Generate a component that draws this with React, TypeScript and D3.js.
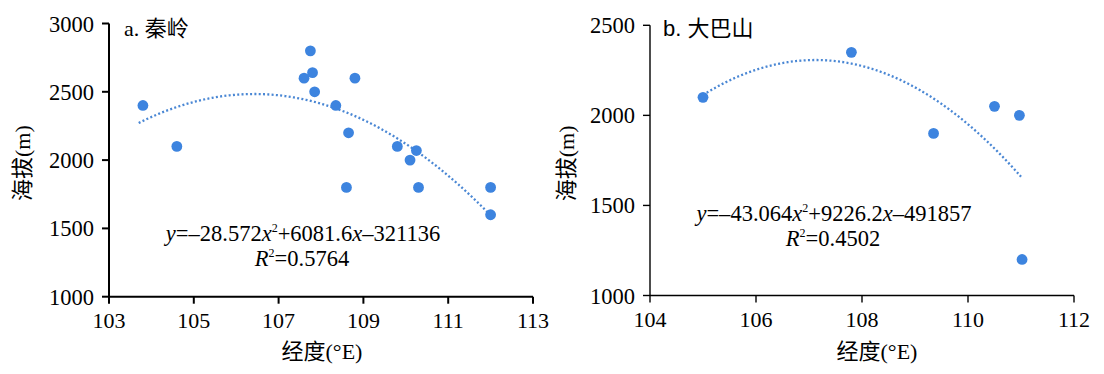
import React from "react";
import * as d3 from "d3";

// ---- data ----
const qinlingLon = [103.8, 104.6, 107.6, 107.75, 107.8, 107.85, 108.35, 108.8, 108.65, 108.6, 109.8, 110.25, 110.1, 110.3, 112.0, 112.0];
const qinlingAlt = [2400, 2100, 2600, 2800, 2640, 2500, 2400, 2600, 2200, 1800, 2100, 2070, 2000, 1800, 1800, 1600];
const qinlingFit = [-28.572, 6081.6, -321136];
const qinlingFitRange = [103.7, 112.0];
const qinlingXTicks = [103, 105, 107, 109, 111, 113];
const qinlingYTicks = [1000, 1500, 2000, 2500, 3000];

const dabaLon = [105.0, 107.8, 109.35, 110.5, 110.97, 111.02];
const dabaAlt = [2100, 2350, 1900, 2050, 2000, 1200];
const dabaFit = [-43.064, 9226.2, -491857];
const dabaFitRange = [105.0, 111.0];
const dabaXTicks = [104, 106, 108, 110, 112];
const dabaYTicks = [1000, 1500, 2000, 2500];

const xTitle = "经度(°E)";
const yTitle = "海拔(m)";

const FONT = "Liberation Serif, Times New Roman, Noto Sans CJK SC, serif";
const SANS = "Liberation Sans, Noto Sans CJK SC, sans-serif";
const DOT = "#3d84df";
const LINE = "#4a87d4";

type PanelProps = {
  lon: number[]; alt: number[]; fit: number[]; fitRange: number[];
  xTicks: number[]; yTicks: number[];
  x0: number; x1: number; y0: number; y1: number;
  title: string; titleX: number; titleFont: string;
  eqA: string; eqB: string; eqC: string; r2: string;
  eqX: number; eqY: number; r2X: number; r2Y: number;
  yTitleX: number; xTitleX: number; axisW: number;
};

function Panel(p: PanelProps) {
  const x = d3.scaleLinear().domain([p.xTicks[0], p.xTicks[p.xTicks.length - 1]]).range([p.x0, p.x1]);
  const y = d3.scaleLinear().domain([p.yTicks[0], p.yTicks[p.yTicks.length - 1]]).range([p.y1, p.y0]);
  const [a, b, c] = p.fit;
  const xs = d3.range(p.fitRange[0], p.fitRange[1] + 1e-9, (p.fitRange[1] - p.fitRange[0]) / 120);
  const line = d3.line<number>().x((v) => x(v)).y((v) => y(a * v * v + b * v + c));
  return (
    <g fontFamily={FONT}>
      <path d={line(xs) || ""} fill="none" stroke={LINE} strokeWidth={2.3} strokeDasharray="2,2.3" />
      {p.lon.map((v, i) => (
        <circle key={i} cx={x(v)} cy={y(p.alt[i])} r={5.4} fill={DOT} />
      ))}
      <line x1={p.x0} x2={p.x0} y1={y(p.yTicks[p.yTicks.length - 1])} y2={p.y1} stroke="#000" strokeWidth={p.axisW} />
      <line x1={p.x0} x2={p.x1} y1={p.y1} y2={p.y1} stroke="#000" strokeWidth={p.axisW} />
      {p.yTicks.map((t) => (
        <g key={"y" + t}>
          <line x1={p.x0 - 7} x2={p.x0} y1={y(t)} y2={y(t)} stroke="#000" strokeWidth={p.axisW} />
          <text x={p.x0 - 15} y={y(t) + 8} textAnchor="end" fontSize={22.5}>{t}</text>
        </g>
      ))}
      {p.xTicks.map((t) => (
        <g key={"x" + t}>
          <line x1={x(t)} x2={x(t)} y1={p.y1} y2={p.y1 + 7} stroke="#000" strokeWidth={p.axisW} />
          <text x={x(t)} y={p.y1 + 31} textAnchor="middle" fontSize={22}>{t}</text>
        </g>
      ))}
      <text x={p.xTitleX} y={359} textAnchor="middle" fontSize={22}>{xTitle}</text>
      <text transform={`translate(${p.yTitleX},${(p.y0 + p.y1) / 2 + 3}) rotate(-90)`} textAnchor="middle" fontSize={22}>{yTitle}</text>
      <text x={p.titleX} y={36} fontSize={22} fontFamily={p.titleFont}>{p.title}</text>
      <text x={p.eqX} y={p.eqY} textAnchor="middle" fontSize={22.5}>
        <tspan fontStyle="italic">y</tspan>
        <tspan>=–{p.eqA}</tspan>
        <tspan fontStyle="italic">x</tspan>
        <tspan dy={-9} fontSize={12}>2</tspan>
        <tspan dy={9}>+{p.eqB}</tspan>
        <tspan fontStyle="italic">x</tspan>
        <tspan>–{p.eqC}</tspan>
      </text>
      <text x={p.r2X} y={p.r2Y} textAnchor="middle" fontSize={22.5}>
        <tspan fontStyle="italic">R</tspan>
        <tspan dy={-9} fontSize={12}>2</tspan>
        <tspan dy={9}>={p.r2}</tspan>
      </text>
    </g>
  );
}

export default function App() {
  return (
    <svg width={1104} height={374} style={{ position: "absolute", left: 0, top: 0, background: "#fff" }}>
      <rect width={1104} height={374} fill="#fff" />
      <Panel lon={qinlingLon} alt={qinlingAlt} fit={qinlingFit} fitRange={qinlingFitRange}
        xTicks={qinlingXTicks} yTicks={qinlingYTicks}
        x0={109} x1={533} y0={23.5} y1={296.7}
        title="a. 秦岭" titleX={124} titleFont={FONT}
        eqA="28.572" eqB="6081.6" eqC="321136" r2="0.5764"
        eqX={303} eqY={241} r2X={302} r2Y={266}
        yTitleX={30} xTitleX={322} axisW={2} />
      <Panel lon={dabaLon} alt={dabaAlt} fit={dabaFit} fitRange={dabaFitRange}
        xTicks={dabaXTicks} yTicks={dabaYTicks}
        x0={650} x1={1074} y0={25.3} y1={295.5}
        title="b. 大巴山" titleX={663} titleFont={SANS}
        eqA="43.064" eqB="9226.2" eqC="491857" r2="0.4502"
        eqX={834} eqY={221} r2X={833} r2Y={246}
        yTitleX={574} xTitleX={877} axisW={1.4} />
    </svg>
  );
}
